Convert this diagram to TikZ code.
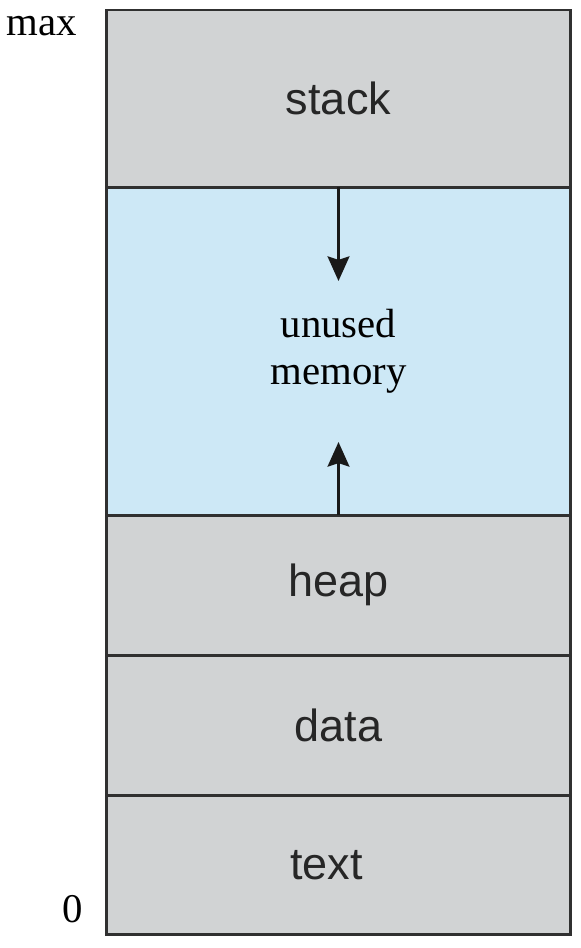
\documentclass[tikz,border=0pt]{standalone}
\usepackage{fontspec}
\setmainfont{Liberation Serif}
\newfontfamily\segfont{Liberation Sans}
\usepackage{xcolor}
\usetikzlibrary{arrows.meta, positioning}

\definecolor{memgray}{HTML}{D1D3D4}
\definecolor{memblue}{HTML}{CDE8F6}
\definecolor{memline}{HTML}{303030}

\tikzset{
  seg/.style={draw=memline, line width=2.1pt, fill=memgray, minimum width=11.575cm,
    inner sep=0pt, outer sep=0pt, text=black!85, font=\segfont\fontsize{32}{38}\selectfont},
  growarrow/.style={line width=2.1pt, draw=black!90, -{Stealth[length=17.5pt, width=15.5pt, inset=2.5pt]}}
}

\begin{document}
\begin{tikzpicture}[x=0.025cm,y=-0.025cm]
\useasboundingbox (0,0) rectangle (580,948);
% the address space, top to bottom
\node[seg, minimum height=4.425cm] (stack) at (338.5,98.5) {stack};
\node[seg, fill=memblue, minimum height=8.2cm, align=center, text=black,
  font=\fontsize{29}{33.5}\selectfont, below=0pt of stack] (unused) {unused\\memory};
\node[seg, minimum height=3.5cm, below=0pt of unused] (heap) {heap};
\node[seg, minimum height=3.5cm, below=0pt of heap] (data) {data};
\node[seg, minimum height=3.475cm, below=0pt of data] (text) {text\hspace*{0.6cm}};
% growth of stack and heap
\coordinate (stacktip) at (338.5,281);
\coordinate (heaptip) at (338.5,442);
\draw[growarrow] (stack.south) -- (stacktip);
\draw[growarrow] (heap.north) -- (heaptip);
% addresses
\node[anchor=base, font=\fontsize{29}{32}\selectfont] (maxaddr) at (42,35) {max};
\node[anchor=base, font=\fontsize{29}{32}\selectfont] (zeroaddr) at (73,922) {0};
\end{tikzpicture}
\end{document}
